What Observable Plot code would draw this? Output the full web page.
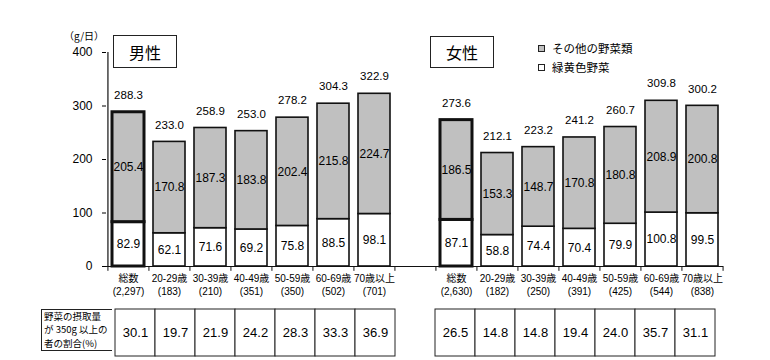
<!DOCTYPE html>
<html>
<head>
<meta charset="utf-8">
<script src="https://cdn.jsdelivr.net/npm/d3@7"></script>
<script src="https://cdn.jsdelivr.net/npm/@observablehq/plot@0.6"></script>
<style>
  html, body { margin: 0; padding: 0; background: #fff; }
  #wrap { position: relative; width: 770px; height: 360px; overflow: hidden; background: #fff;
          font-family: "Liberation Sans", "Noto Sans CJK JP", sans-serif; color: #000; }
  .abs { position: absolute; }
  .tbox { border: 1px solid #222; box-sizing: border-box; display: flex; align-items: center;
          justify-content: center; font-size: 16px; font-family: "Noto Sans CJK JP", sans-serif; background: #fff; }
  .leg { display: flex; align-items: center; font-size: 11.5px; font-family: "Noto Sans CJK JP", sans-serif; }
  .sw { width: 7px; height: 7px; border: 1px solid #222; margin-right: 7px; box-sizing: border-box; }
  #head { border: 1px solid #222; border-right: none; box-sizing: border-box; font-size: 9.5px;
          padding: 0 0 0 2px; font-family: "Noto Sans CJK JP", sans-serif; background: #fff; }
  #head div { height: 13.4px; line-height: 13.4px; white-space: nowrap; }
</style>
</head>
<body>
<div id="wrap"></div>
<script>
// ---- data ----
const ageGroups = ["総数", "20-29歳", "30-39歳", "40-49歳", "50-59歳", "60-69歳", "70歳以上"];
const maleN = ["2,297", "183", "210", "351", "350", "502", "701"];
const femaleN = ["2,630", "182", "250", "391", "425", "544", "838"];
const maleGreen = [82.9, 62.1, 71.6, 69.2, 75.8, 88.5, 98.1];
const maleOther = [205.4, 170.8, 187.3, 183.8, 202.4, 215.8, 224.7];
const maleTotal = [288.3, 233.0, 258.9, 253.0, 278.2, 304.3, 322.9];
const femaleGreen = [87.1, 58.8, 74.4, 70.4, 79.9, 100.8, 99.5];
const femaleOther = [186.5, 153.3, 148.7, 170.8, 180.8, 208.9, 200.8];
const femaleTotal = [273.6, 212.1, 223.2, 241.2, 260.7, 309.8, 300.2];
const male350 = [30.1, 19.7, 21.9, 24.2, 28.3, 33.3, 36.9];
const female350 = [26.5, 14.8, 14.8, 19.4, 24.0, 35.7, 31.1];
const yTicks = [0, 100, 200, 300, 400];
const legendLabels = ["その他の野菜類", "緑黄色野菜"];
const sexLabels = ["男性", "女性"];
const unitLabel = "（g/日）";
const tableHeader = ["野菜の摂取量", "が 350g 以上の", "者の割合(%)"];

// ---- derived tables ----
const maleKeys = ageGroups.map((_, i) => "M" + i);
const femaleKeys = ageGroups.map((_, i) => "F" + i);
const keys = [...maleKeys, "gap", ...femaleKeys];
const labelOf = {gap: ""};
ageGroups.forEach((g, i) => {
  labelOf[maleKeys[i]] = g + "\n(" + maleN[i] + ")";
  labelOf[femaleKeys[i]] = g + "\n(" + femaleN[i] + ")";
});
const rows = [];
ageGroups.forEach((g, i) => rows.push({key: maleKeys[i], green: maleGreen[i], other: maleOther[i], total: maleTotal[i], bold: i === 0}));
ageGroups.forEach((g, i) => rows.push({key: femaleKeys[i], green: femaleGreen[i], other: femaleOther[i], total: femaleTotal[i], bold: i === 0}));
const tableRows = [
  ...ageGroups.map((g, i) => ({key: maleKeys[i], v: male350[i]})),
  ...ageGroups.map((g, i) => ({key: femaleKeys[i], v: female350[i]}))
];

const W = 770, mL = 106, mR = 47;
const step = (W - mL - mR) / keys.length;
const font = "'Liberation Sans', 'Noto Sans CJK JP', sans-serif";
const gray = "#c0c0c0";

const normal = rows.filter(d => !d.bold), bold = rows.filter(d => d.bold);
const barMarks = (data, sw) => [
  Plot.barY(data, {x: "key", y1: 0, y2: "green", fill: "white", stroke: "#111", strokeWidth: sw}),
  Plot.barY(data, {x: "key", y1: "green", y2: d => d.green + d.other, fill: gray, stroke: "#111", strokeWidth: sw})
];

const chart = Plot.plot({
  width: W, height: 305,
  marginLeft: mL, marginRight: mR, marginTop: 52, marginBottom: 39,
  style: {fontFamily: font, fontSize: "12px", color: "#000", background: "transparent"},
  x: {type: "band", domain: keys, paddingInner: 0.22, paddingOuter: 0.11},
  y: {domain: [0, 400]},
  marks: [
    ...barMarks(normal, 1.6),
    ...barMarks(bold, 3),
    Plot.ruleY([0], {stroke: "#111", strokeWidth: 1.2}),
    Plot.ruleX([keys[0]], {dx: -step / 2, y1: 0, y2: 400, stroke: "#111", strokeWidth: 1.2}),
    Plot.ruleX(keys, {dx: -step / 2, y1: 0, y2: -9, stroke: "#111"}),
    Plot.ruleX([keys[keys.length - 1]], {dx: step / 2, y1: 0, y2: -9, stroke: "#111"}),
    Plot.axisY({ticks: yTicks, tickSize: 4, tickPadding: 10, fontSize: 12, label: null, tickFormat: d => d}),
    Plot.axisX({tickSize: 0, tickPadding: 6, fontSize: 10, lineHeight: 1.3, label: null, tickFormat: k => labelOf[k]}),
    Plot.text(rows, {x: "key", y: d => d.green + d.other, text: d => d.total.toFixed(1), dy: -17, fontSize: 11.5, lineAnchor: "middle", fill: "#000"}),
    Plot.text(rows, {x: "key", y: d => d.green + d.other / 2, text: d => d.other.toFixed(1), fontSize: 12, lineAnchor: "middle", fill: "#000"}),
    Plot.text(rows, {x: "key", y: d => d.green / 2, text: d => d.green.toFixed(1), fontSize: 12, lineAnchor: "middle", fill: "#000"})
  ]
});

const table = Plot.plot({
  width: W, height: 55,
  marginLeft: 112, marginRight: 52, marginTop: 4, marginBottom: 4,
  style: {fontFamily: font, color: "#000", background: "transparent"},
  x: {type: "band", domain: keys, padding: 0, axis: null},
  y: {type: "band", domain: ["r"], padding: 0, axis: null},
  marks: [
    Plot.cell(tableRows, {x: "key", y: () => "r", fill: "white", stroke: "#222", inset: 0}),
    Plot.text(tableRows, {x: "key", y: () => "r", text: d => d.v.toFixed(1), fontSize: 13, fill: "#000"})
  ]
});

const wrap = document.getElementById("wrap");
chart.classList.add("abs"); chart.style.left = "0px"; chart.style.top = "0px";
table.classList.add("abs"); table.style.left = "0px"; table.style.top = "305px";
wrap.appendChild(chart);
wrap.appendChild(table);

function addDiv(cls, css, html) {
  const d = document.createElement("div");
  d.className = cls; d.style.cssText = css; d.innerHTML = html;
  wrap.appendChild(d); return d;
}
addDiv("abs", "left:64px;top:28px;font-size:10px;font-family:'Noto Sans CJK JP',sans-serif;", unitLabel);
addDiv("abs tbox", "left:113px;top:35px;width:64px;height:33px;", sexLabels[0]);
addDiv("abs tbox", "left:430px;top:36px;width:64px;height:32px;", sexLabels[1]);
addDiv("abs leg", "left:538px;top:40px;height:16px;", `<div class="sw" style="background:${gray}"></div>${legendLabels[0]}`);
addDiv("abs leg", "left:538px;top:59px;height:16px;", `<div class="sw" style="background:#fff"></div>${legendLabels[1]}`);
const head = addDiv("abs", "left:41px;top:309px;width:71px;height:42px;", tableHeader.map(t => `<div>${t}</div>`).join(""));
head.id = "head";
</script>
</body>
</html>
